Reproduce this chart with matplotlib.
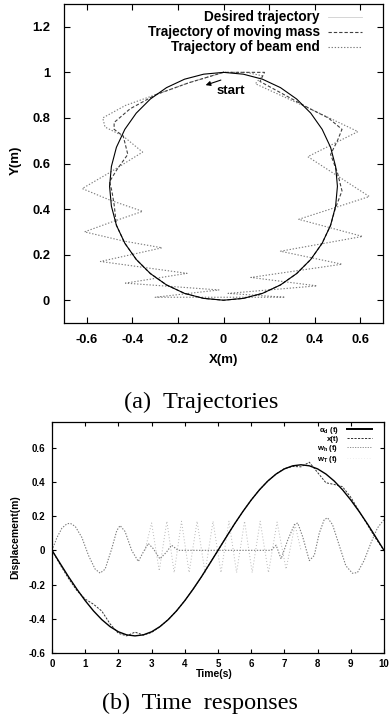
import matplotlib
matplotlib.use('Agg')
import matplotlib.pyplot as plt
from matplotlib.lines import Line2D

plt.rcParams['font.family'] = ['Liberation Sans', 'DejaVu Sans']
plt.rcParams['font.weight'] = 'bold'
plt.rcParams['mathtext.fontset'] = 'custom'
plt.rcParams['mathtext.rm'] = 'Liberation Sans:bold'
plt.rcParams['mathtext.it'] = 'Liberation Sans:bold'
plt.rcParams['mathtext.bf'] = 'Liberation Sans:bold'
plt.rcParams['mathtext.default'] = 'rm'

# ---------------- (a) Trajectories ----------------
desired_x = [0.000, -0.087, -0.171, -0.250, -0.321, -0.383, -0.433, -0.470, -0.492, -0.500,
             -0.492, -0.470, -0.433, -0.383, -0.321, -0.250, -0.171, -0.087, 0.000, 0.087,
             0.171, 0.250, 0.321, 0.383, 0.433, 0.470, 0.492, 0.500, 0.492, 0.470,
             0.433, 0.383, 0.321, 0.250, 0.171, 0.087, 0.000]
desired_y = [1.000, 0.992, 0.970, 0.933, 0.883, 0.821, 0.750, 0.671, 0.587, 0.500,
             0.413, 0.329, 0.250, 0.179, 0.117, 0.067, 0.030, 0.008, 0.000, 0.008,
             0.030, 0.067, 0.117, 0.179, 0.250, 0.329, 0.413, 0.500, 0.587, 0.671,
             0.750, 0.821, 0.883, 0.933, 0.970, 0.992, 1.000]

mass_x = [0.00, -0.15, -0.295, -0.41, -0.48, -0.48, -0.44, -0.42, -0.47, -0.50, -0.49,
          -0.48, -0.47, -0.433, -0.383, -0.321, -0.25, -0.171, -0.087, 0.0, 0.087, 0.171,
          0.25, 0.321, 0.383, 0.433, 0.47, 0.49, 0.52, 0.50, 0.47, 0.50, 0.52, 0.46,
          0.38, 0.16, 0.18, 0.09, 0.00]
mass_y = [1.00, 0.955, 0.903, 0.84, 0.78, 0.75, 0.72, 0.64, 0.57, 0.52, 0.48,
          0.42, 0.329, 0.25, 0.179, 0.117, 0.067, 0.03, 0.008, 0.0, 0.008, 0.03,
          0.067, 0.117, 0.179, 0.25, 0.329, 0.40, 0.48, 0.56, 0.64, 0.70, 0.75, 0.80,
          0.84, 0.96, 1.00, 1.00, 1.00]

beam_x = [0.00, -0.15, -0.295, -0.43, -0.53, -0.52, -0.44, -0.355, -0.50, -0.62,
          -0.50, -0.355, -0.50, -0.61, -0.44, -0.27, -0.54, -0.16, -0.43, -0.02,
          -0.30, 0.27, 0.02, 0.41, 0.12, 0.52, 0.25, 0.61, 0.33, 0.64,
          0.37, 0.59, 0.38, 0.14, 0.17, 0.10, 0.00]
beam_y = [1.00, 0.955, 0.903, 0.855, 0.80, 0.76, 0.72, 0.65, 0.56, 0.49,
          0.44, 0.39, 0.34, 0.30, 0.26, 0.23, 0.17, 0.118, 0.075, 0.045,
          0.013, 0.013, 0.03, 0.063, 0.10, 0.158, 0.215, 0.28, 0.355, 0.455,
          0.63, 0.74, 0.84, 0.95, 0.985, 1.00, 1.00]

a_xticks = [-0.6, -0.4, -0.2, 0.0, 0.2, 0.4, 0.6]
a_xticklabels = ['-0.6', '-0.4', '-0.2', '0', '0.2', '0.4', '0.6']
a_yticks = [0.0, 0.2, 0.4, 0.6, 0.8, 1.0, 1.2]
a_yticklabels = ['0', '0.2', '0.4', '0.6', '0.8', '1', '1.2']
a_labels = ['Desired trajectory', 'Trajectory of moving mass', 'Trajectory of beam end']

# ---------------- (b) Time responses ----------------
time_grid = [0.0, 0.25, 0.5, 0.75, 1.0, 1.25, 1.5, 1.75, 2.0, 2.25,
             2.5, 2.75, 3.0, 3.25, 3.5, 3.75, 4.0, 4.25, 4.5, 4.75,
             5.0, 5.25, 5.5, 5.75, 6.0, 6.25, 6.5, 6.75, 7.0, 7.25,
             7.5, 7.75, 8.0, 8.25, 8.5, 8.75, 9.0, 9.25, 9.5, 9.75, 10.0]
alpha_d = [0.000, -0.078, -0.155, -0.227, -0.294, -0.354, -0.405, -0.446, -0.476, -0.494,
           -0.500, -0.494, -0.476, -0.446, -0.405, -0.354, -0.294, -0.227, -0.155, -0.078,
           0.000, 0.078, 0.155, 0.227, 0.294, 0.354, 0.405, 0.446, 0.476, 0.494,
           0.500, 0.494, 0.476, 0.446, 0.405, 0.354, 0.294, 0.227, 0.155, 0.078, 0.000]
x_t = [0.000, -0.085, -0.165, -0.235, -0.285, -0.315, -0.355, -0.430, -0.485, -0.500,
       -0.478, -0.495, -0.480, -0.446, -0.405, -0.354, -0.294, -0.227, -0.155, -0.078,
       0.000, 0.078, 0.155, 0.227, 0.294, 0.354, 0.405, 0.446, 0.478, 0.490,
       0.488, 0.515, 0.455, 0.395, 0.385, 0.372, 0.310, 0.230, 0.150, 0.070, 0.000]

time_wh = [0.00, 0.15, 0.30, 0.45, 0.55, 0.70, 0.90, 1.10, 1.30, 1.45, 1.60, 1.80, 1.95,
           2.05, 2.20, 2.40, 2.60, 2.75, 2.90, 3.05, 3.25, 3.45, 3.60, 3.80, 4.00,
           6.60, 6.75, 6.90, 7.10, 7.30, 7.40, 7.55, 7.75, 7.90, 8.05, 8.20, 8.30,
           8.45, 8.65, 8.85, 9.05, 9.20, 9.40, 9.60, 9.80, 10.00]
w_h = [0.000, 0.075, 0.130, 0.155, 0.158, 0.140, 0.075, -0.030, -0.110, -0.133, -0.110, 0.010, 0.115,
       0.145, 0.110, 0.000, -0.065, -0.010, 0.040, 0.010, -0.050, -0.010, 0.030, 0.000, 0.000,
       0.000, 0.030, -0.050, 0.060, 0.150, 0.160, 0.080, -0.060, -0.030, 0.100, 0.180, 0.190,
       0.150, 0.030, -0.090, -0.134, -0.130, -0.060, 0.040, 0.130, 0.180]

time_wt = [2.80, 3.00, 3.23, 3.46, 3.68, 3.90, 4.13, 4.37, 4.61, 4.85, 5.09, 5.33,
           5.56, 5.80, 6.03, 6.27, 6.52, 6.78, 7.05, 7.32, 7.50]
w_T = [0.000, 0.160, -0.120, 0.170, -0.130, 0.170, -0.130, 0.170, -0.130, 0.170, -0.130, 0.170,
       -0.130, 0.170, -0.130, 0.170, -0.130, 0.165, -0.110, 0.150, 0.000]

b_xticks = [0, 1, 2, 3, 4, 5, 6, 7, 8, 9, 10]
b_xticklabels = ['0', '1', '2', '3', '4', '5', '6', '7', '8', '9', '10']
b_yticks = [-0.6, -0.4, -0.2, 0.0, 0.2, 0.4, 0.6]
b_yticklabels = ['-0.6', '-0.4', '-0.2', '0', '0.2', '0.4', '0.6']
b_labels = [r'$\alpha_d$ (t)', 'x(t)', r'$w_h$ (t)', r'$w_T$ (t)']

W, H = 392, 726
fig = plt.figure(figsize=(W / 100, H / 100), dpi=100)

def frac(left, top, right, bottom):
    return [left / W, 1 - bottom / H, (right - left) / W, (bottom - top) / H]

# ---- panel (a)
ax1 = fig.add_axes(frac(64, 4, 383, 323))
ax1.plot(desired_x, desired_y, color='black', lw=0.8, zorder=3)
ax1.plot(mass_x, mass_y, color='#404040', lw=0.8, dashes=(3, 1.8), zorder=2)
ax1.plot(beam_x, beam_y, color='#7a7a7a', lw=0.8, dashes=(1.2, 1.6), zorder=1)
ax1.set_xlim(-0.7, 0.7)
ax1.set_ylim(-0.1, 1.3)
ax1.set_xticks(a_xticks)
ax1.set_xticklabels(a_xticklabels)
ax1.set_yticks(a_yticks)
ax1.set_yticklabels(a_yticklabels)
ax1.tick_params(direction='in', length=4, width=0.8, top=True, right=True,
                labelsize=9.3)
ax1.tick_params(axis='x', pad=8)
ax1.tick_params(axis='y', pad=10)
for s in ax1.spines.values():
    s.set_linewidth(0.9)

h_a = [Line2D([], [], color='#cfcfcf', lw=0.6),
       Line2D([], [], color='#404040', lw=0.8, dashes=(3, 1.8)),
       Line2D([], [], color='#7a7a7a', lw=0.8, dashes=(1.2, 1.6))]
ax1.legend(h_a, a_labels, loc='upper right', bbox_to_anchor=(0.934, 0.98),
           frameon=False, markerfirst=False, fontsize=9.8, handlelength=2.5,
           handletextpad=0.6, labelspacing=0.07, borderpad=0, borderaxespad=0)

ax1.annotate('', xy=(-0.09, 0.94), xytext=(0.0, 0.97),
             arrowprops=dict(arrowstyle='-|>', color='black', lw=0.8,
                             mutation_scale=7))
ax1.text(-0.03, 0.92, 'start', fontsize=9.5, fontweight='bold', ha='left', va='center')

fig.text(224 / W, 1 - 360 / H, 'X(m)', fontsize=9.5, fontweight='bold',
         ha='center', va='center')
fig.text(16 / W, 1 - 160 / H, 'Y(m)', fontsize=9.5, fontweight='bold',
         ha='center', va='center', rotation=90)
fig.text(201 / W, 1 - 402 / H, '(a)  Trajectories', fontsize=17.5,
         family='Liberation Serif', fontweight='normal', ha='center', va='center')

# ---- panel (b)
ax2 = fig.add_axes(frac(52, 422, 384, 653))
ax2.plot(time_wt, w_T, color='#b8b8b8', lw=0.7, dashes=(1, 2.2), zorder=1)
ax2.plot(time_wh, w_h, color='#7a7a7a', lw=0.8, dashes=(1.2, 1.4), zorder=2)
ax2.plot(time_grid, x_t, color='#303030', lw=0.7, dashes=(2.2, 1.4), zorder=3)
ax2.plot(time_grid, alpha_d, color='black', lw=1.0, zorder=4)
ax2.set_xlim(0, 10)
ax2.set_ylim(-0.6, 0.75)
ax2.set_xticks(b_xticks)
ax2.set_xticklabels(b_xticklabels)
ax2.set_yticks(b_yticks)
ax2.set_yticklabels(b_yticklabels)
ax2.tick_params(direction='in', length=3, width=0.8, top=True, right=True,
                labelsize=7)
ax2.tick_params(axis='x', pad=4)
ax2.tick_params(axis='y', pad=5)
for s in ax2.spines.values():
    s.set_linewidth(0.9)

h_b = [Line2D([], [], color='black', lw=1.4),
       Line2D([], [], color='#303030', lw=0.7, dashes=(2.2, 1.4)),
       Line2D([], [], color='#8a8a8a', lw=0.7, dashes=(1.2, 1.4)),
       Line2D([], [], color='#e0e0e0', lw=0.5, dashes=(1, 3))]
ax2.legend(h_b, b_labels, loc='upper right', bbox_to_anchor=(0.964, 0.988),
           frameon=False, markerfirst=False, fontsize=5.6, handlelength=3.2,
           handletextpad=1.1, labelspacing=0.0, borderpad=0, borderaxespad=0)

fig.text(214 / W, 1 - 674 / H, 'Time(s)', fontsize=7.5, fontweight='bold',
         ha='center', va='center')
fig.text(15 / W, 1 - 537 / H, 'Displacement(m)', fontsize=7.5, fontweight='bold',
         ha='center', va='center', rotation=90)
fig.text(200 / W, 1 - 703 / H, '(b)  Time  responses', fontsize=17.4,
         family='Liberation Serif', fontweight='normal', ha='center', va='center')

fig.savefig('out.png', dpi=100)
